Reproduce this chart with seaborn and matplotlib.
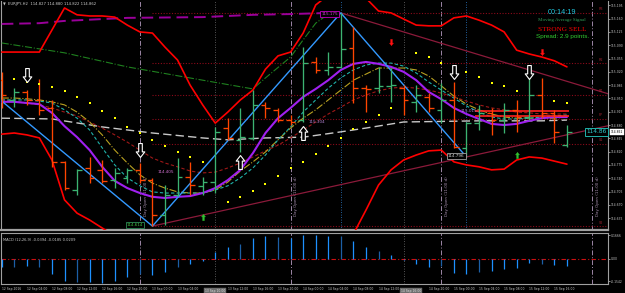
import numpy as np
import pandas as pd
import matplotlib
matplotlib.use("Agg")
import matplotlib.pyplot as plt
import seaborn as sns
from matplotlib.path import Path

sns.set_style("dark", {"axes.facecolor": "black", "figure.facecolor": "black"})
plt.rcParams['font.family'] = ['DejaVu Sans']

# ---------------- data ----------------
symbol_title = "EURJPY,H2  114.827 114.880 114.822 114.862"
bars = list(range(46))
open_ = [114.998,114.946,114.967,114.946,114.925,114.783,114.709,114.767,114.762,114.735,114.741,114.762,114.735,114.643,114.696,114.743,114.720,114.730,114.872,114.841,114.846,114.933,114.920,114.893,114.893,115.046,115.025,115.033,115.083,114.977,114.977,114.983,114.977,114.941,114.954,114.920,114.946,114.820,114.885,114.912,114.893,114.920,114.901,114.959,114.912,114.827]
high = [115.020,114.977,114.972,115.001,114.946,114.785,114.764,114.796,114.788,114.767,114.767,114.780,114.741,114.722,114.793,114.783,114.743,114.875,114.898,114.925,114.972,114.941,114.925,114.906,115.085,115.059,115.072,115.175,115.138,114.985,115.033,115.030,114.985,114.985,114.964,114.991,114.993,114.888,114.933,114.925,114.938,114.946,115.006,115.004,114.920,114.880]
low = [114.925,114.927,114.933,114.906,114.770,114.709,114.696,114.727,114.727,114.714,114.727,114.727,114.614,114.617,114.693,114.696,114.696,114.701,114.841,114.809,114.841,114.898,114.888,114.880,114.888,115.017,115.012,115.030,114.938,114.914,114.964,114.941,114.906,114.914,114.914,114.885,114.820,114.796,114.867,114.854,114.859,114.862,114.893,114.898,114.833,114.822]
close = [114.959,114.967,114.946,114.920,114.783,114.714,114.762,114.741,114.733,114.754,114.762,114.735,114.643,114.696,114.743,114.722,114.730,114.862,114.846,114.848,114.933,114.925,114.893,114.888,115.043,115.025,115.033,115.080,114.977,114.975,114.983,114.985,114.946,114.959,114.925,114.946,114.822,114.885,114.912,114.893,114.920,114.901,114.959,114.912,114.862,114.862]

ma_purple = [114.941,114.941,114.938,114.935,114.912,114.877,114.848,114.814,114.770,114.733,114.714,114.701,114.691,114.688,114.691,114.693,114.701,114.714,114.735,114.762,114.806,114.859,114.898,114.925,114.954,114.975,114.998,115.025,115.041,115.046,115.041,115.033,115.020,114.998,114.967,114.948,114.925,114.909,114.896,114.883,114.880,114.883,114.891,114.898,114.901,114.901]
ma_cyan = [114.946,114.946,114.946,114.943,114.938,114.920,114.898,114.867,114.820,114.775,114.741,114.720,114.704,114.701,114.701,114.701,114.701,114.709,114.720,114.741,114.767,114.801,114.841,114.875,114.914,114.946,114.977,115.004,115.025,115.038,115.043,115.043,115.035,115.017,114.993,114.972,114.951,114.930,114.914,114.901,114.896,114.896,114.898,114.901,114.904,114.906]
ma_olive = [114.951,114.951,114.949,114.946,114.941,114.933,114.914,114.888,114.854,114.814,114.780,114.749,114.727,114.714,114.704,114.701,114.701,114.709,114.730,114.759,114.783,114.809,114.841,114.872,114.898,114.920,114.946,114.972,114.998,115.014,115.030,115.030,115.030,115.025,115.009,114.983,114.956,114.935,114.920,114.909,114.901,114.898,114.898,114.898,114.898,114.901]
ma_darkred = [114.946,114.943,114.938,114.933,114.925,114.914,114.904,114.888,114.872,114.854,114.835,114.814,114.793,114.780,114.770,114.759,114.754,114.756,114.767,114.780,114.796,114.812,114.827,114.846,114.867,114.888,114.909,114.927,114.946,114.959,114.970,114.977,114.980,114.977,114.972,114.964,114.954,114.943,114.933,114.925,114.920,114.914,114.912,114.909,114.909,114.909]
ma_gray_bars = [0,4,8,12,16,18,21,24,27,29,32,38,43,45]
ma_gray = [114.898,114.896,114.875,114.859,114.846,114.841,114.846,114.848,114.862,114.872,114.888,114.891,114.891,114.893]
ma_green_bars = [0,5,10,16,20,21,23,24,25,26]
ma_green = [115.096,115.070,115.033,114.998,114.975,115.004,115.059,115.104,115.148,115.172]
ma_long_bars = [0,3,5,10,16,20,23,26]
ma_long = [115.146,115.148,115.154,115.162,115.164,115.170,115.172,115.175]

band_upper = [115.072,115.072,115.072,115.072,115.130,115.188,115.170,115.167,115.167,115.164,115.143,115.125,115.122,115.085,115.051,114.985,114.933,114.885,114.914,114.946,114.972,115.027,115.062,115.072,115.122,115.196,115.222,115.235,115.230,115.214,115.180,115.175,115.159,115.143,115.141,115.141,115.162,115.167,115.156,115.143,115.125,115.077,115.067,115.059,115.049,115.033]
band_lower = [114.856,114.859,114.854,114.846,114.788,114.683,114.648,114.630,114.609,114.588,114.564,114.551,114.535,114.520,114.509,114.504,114.498,114.493,114.488,114.483,114.477,114.472,114.472,114.477,114.493,114.520,114.546,114.567,114.593,114.656,114.722,114.762,114.788,114.801,114.812,114.814,114.783,114.775,114.770,114.762,114.764,114.788,114.796,114.793,114.785,114.777]

zigzag_bars = [0,12,27,37]
zigzag = [114.943,114.614,115.175,114.796]
trend_low_bars = [12,37]
trend_low = [114.614,114.796]
trend_high_bars = [27,43]
trend_high = [115.175,115.015]

sar_bars = [1,2,3,4,5,6,7,8,9,10,11,12,13,14,15,16,18,19,20,21,22,23,24,25,26,27,28,29,30,31,33,34,35,36,37,38,39,40,41,44,45]
sar = [115.001,114.993,114.988,114.980,114.970,114.954,114.938,114.917,114.898,114.875,114.859,114.841,114.825,114.809,114.796,114.783,114.677,114.691,114.706,114.725,114.746,114.767,114.783,114.804,114.825,114.846,114.870,114.888,114.906,114.925,115.070,115.059,115.043,115.033,115.020,115.006,114.991,114.983,114.970,114.943,114.938]

pivot_levels = [115.175,115.043,114.959,114.896,114.830,114.614]
pivot_names = ["R3","R2","R1","PP","S1","S2"]
pivot_start = 12
dayhl_levels = [114.917,114.904]
dayhl_span = [37.7,45.2]

sell_arrow_bars = [2,11,36,42]
sell_arrow = [115.012,114.814,115.020,115.020]
buy_arrow_bars = [19,24]
buy_arrow = [114.783,114.859]
green_arrow_bars = [16,41]
green_arrow = [114.638,114.801]
red_arrow_bars = [31,43]
red_arrow = [115.098,115.072]

macd = [-0.058,-0.053,-0.047,-0.053,-0.104,-0.151,-0.162,-0.162,-0.165,-0.151,-0.127,-0.106,-0.111,-0.088,-0.053,-0.035,-0.012,0.051,0.083,0.104,0.144,0.160,0.151,0.144,0.165,0.167,0.160,0.162,0.125,0.083,0.056,0.028,-0.009,-0.035,-0.058,-0.049,-0.095,-0.104,-0.088,-0.083,-0.067,-0.060,-0.030,-0.033,-0.042,-0.047]
macd_dark = [1,3,6,11,14,19,22,27,30,35,38,43]
macd_title = "MACD (12,26,9) -0.0394 -0.0185 0.0209"

price_ticks = [115.195,115.160,115.125,115.090,115.055,115.020,114.985,114.950,114.915,114.880,114.845,114.810,114.775,114.740,114.705,114.670,114.635]
macd_ticks = [0.1666,0.0,-0.1542]
macd_tick_labels = ["0.1666","0.00","-0.1542"]
time_tick_bars = list(range(0,45,2))
time_labels = ["12 Sep 2016","12 Sep 04:00","12 Sep 08:00","12 Sep 12:00","12 Sep 16:00","12 Sep 20:00",
               "13 Sep 00:00","13 Sep 04:00","","13 Sep 12:00","13 Sep 16:00","13 Sep 20:00",
               "14 Sep 00:00","14 Sep 04:00","14 Sep 08:00","14 Sep 12:00","","14 Sep 20:00",
               "15 Sep 00:00","15 Sep 04:00","15 Sep 08:00","15 Sep 12:00","15 Sep 16:00"]
day_sep_bars = [11,23,35,47]
day_sep_text = "Day Open (11:00 d)"
marker_lines = [17,32]
marker_line_labels = ["13 Sep 10:00","14 Sep 16:00"]
swing_lines = [27,37]
bid = 114.862

# ---------------- figure ----------------
W, H = 625, 293
fig = plt.figure(figsize=(6.25, 2.93), dpi=100, facecolor='black')
ax = fig.add_axes([1/W, 1-230/H, 607/W, 229/H])
mx = fig.add_axes([1/W, 1-284/H, 607/W, 51.5/H])
for a in (ax, mx):
    a.set_facecolor('black')
    a.grid(False)
    for s in a.spines.values():
        s.set_color('#A0A0A0'); s.set_linewidth(0.8)
    a.set_xlim(-0.056, 48.27)
ax.spines['top'].set_visible(False)
ax.spines['bottom'].set_linewidth(1.6)
ax.set_ylim(114.6037, 115.2064)
mx.set_ylim(-0.17355, 0.18396)

tick_kw = dict(labelsize=2.2, colors='#C8C8C8', length=1.2, width=0.5, pad=0.8)
ax.yaxis.tick_right()
ax.set_yticks(price_ticks)
ax.set_yticklabels([f"{v:.3f}" for v in price_ticks])
ax.tick_params(axis='y', **tick_kw)
ax.set_xticks([])
mx.yaxis.tick_right()
mx.set_yticks(macd_ticks)
mx.set_yticklabels(macd_tick_labels)
mx.tick_params(axis='y', **tick_kw)
mx.set_xticks(time_tick_bars)
mx.set_xticklabels(time_labels)
mx.tick_params(axis='x', labelsize=2.2, colors='#C8C8C8', length=1.2, width=0.5, pad=1)
for lb in mx.get_xticklabels():
    lb.set_ha('left')
ax.set_xlabel(''); ax.set_ylabel(''); mx.set_xlabel(''); mx.set_ylabel('')

# vertical lines
for b in day_sep_bars:
    for a in (ax, mx):
        a.axvline(b, color='#9C86A6', lw=0.7, ls=(0, (5, 2, 1, 2)), zorder=1)
    ax.text(b + 0.3, 114.640, day_sep_text, rotation=90, fontsize=2.9, color='#A890B0',
            va='bottom', ha='left')
for b in marker_lines:
    for a in (ax, mx):
        a.axvline(b, color='#707070', lw=0.6, ls=(0, (1, 2)), zorder=1)
for b in swing_lines:
    ax.axvline(b, color='#2F7FD0', lw=0.6, ls=(0, (1, 2)), zorder=1)

# pivots
for lv, nm in zip(pivot_levels, pivot_names):
    ax.hlines(lv, pivot_start, 48.3, color='#8B0A1A', lw=0.8, ls=(0, (1, 1.5)), zorder=1)
    ax.text(47.5, lv + 0.004, nm, fontsize=2.4, color='#A02030', va='bottom', ha='left')

# trend lines
def extend(bx, vy, end=48.3):
    s = (vy[1] - vy[0]) / (bx[1] - bx[0])
    return [bx[0], end], [vy[0], vy[0] + s * (end - bx[0])]
tx, ty = extend(trend_low_bars, trend_low)
ax.plot(tx, ty, color='#8B1A3A', lw=0.9, zorder=2)
tx, ty = extend(trend_high_bars, trend_high)
ax.plot(tx, ty, color='#8B1A3A', lw=0.9, zorder=2)

# moving averages / bands
sns.lineplot(x=ma_long_bars, y=ma_long, ax=ax, color='#9A009A', lw=1.4, linestyle=(0, (6, 3)), zorder=3)
sns.lineplot(x=ma_green_bars, y=ma_green, ax=ax, color='#1F801F', lw=0.8, linestyle='-.', zorder=3)
sns.lineplot(x=ma_gray_bars, y=ma_gray, ax=ax, color='#C8C8C8', lw=1.0, linestyle=(0, (6, 3)), zorder=3)
sns.lineplot(x=bars, y=ma_darkred, ax=ax, color='#A01818', lw=0.8, linestyle=(0, (3, 2)), zorder=3)
sns.lineplot(x=bars, y=ma_olive, ax=ax, color='#B8A020', lw=0.8, linestyle='-.', zorder=3)
sns.lineplot(x=bars, y=ma_cyan, ax=ax, color='#20B2AA', lw=0.8, linestyle=(0, (3, 2)), zorder=3)
sns.lineplot(x=bars, y=ma_purple, ax=ax, color='#A020F0', lw=1.5, zorder=4)
sns.lineplot(x=bars, y=band_upper, ax=ax, color='#FF0000', lw=1.2, zorder=4)
sns.lineplot(x=bars, y=band_lower, ax=ax, color='#FF0000', lw=1.2, zorder=4)
sns.lineplot(x=zigzag_bars, y=zigzag, ax=ax, color='#3399FF', lw=1.0, zorder=4)
for lv in dayhl_levels:
    ax.hlines(lv, dayhl_span[0], dayhl_span[1], color='#FF2020', lw=1.2, zorder=4)

# price bars
bull_c, bear_c = '#3CB371', '#FF4500'
cols = [bull_c if c >= o else bear_c for o, c in zip(open_, close)]
ax.vlines(bars, low, high, colors=cols, lw=0.95, zorder=5)
ax.hlines(open_, np.array(bars) - 0.38, bars, colors=cols, lw=0.95, zorder=5)
ax.hlines(close, bars, np.array(bars) + 0.38, colors=cols, lw=0.95, zorder=5)

# SAR dots
sns.scatterplot(x=sar_bars, y=sar, ax=ax, color='#FFFF00', marker='s', s=1.5, linewidth=0, zorder=6)

# arrows
up_path = Path([(0, 1), (-0.62, 0.2), (-0.26, 0.2), (-0.26, -1), (0.26, -1), (0.26, 0.2), (0.62, 0.2), (0, 1)],
               [Path.MOVETO] + [Path.LINETO] * 6 + [Path.CLOSEPOLY])
down_path = Path([(x, -y) for x, y in up_path.vertices], up_path.codes)
ax.plot(sell_arrow_bars, sell_arrow, ls='none', marker=down_path, ms=10, mfc='black', mec='white', mew=0.8, zorder=7)
ax.plot(buy_arrow_bars, buy_arrow, ls='none', marker=up_path, ms=10, mfc='black', mec='white', mew=0.8, zorder=7)
ax.plot(green_arrow_bars, green_arrow, ls='none', marker=up_path, ms=4.5, mfc='#30C030', mec='#30C030', mew=0.3, zorder=7)
ax.plot(red_arrow_bars, red_arrow, ls='none', marker=down_path, ms=4.5, mfc='#FF1010', mec='#FF1010', mew=0.3, zorder=7)

# price labels
ax.text(12.4, 114.756, "114.405", fontsize=3.0, color='#D070D0', va='center', zorder=8)
ax.text(24.4, 114.888, "115.304", fontsize=3.0, color='#B080D0', va='center', zorder=8)
ax.text(36.5, 114.917, "115.015", fontsize=3.0, color='#B080D0', va='center', zorder=8)
ax.text(26.1, 115.172, "115.175", fontsize=3.0, color='#D040D0', va='center', ha='center', zorder=8,
        bbox=dict(boxstyle='square,pad=0.2', fc='black', ec='#C000C0', lw=0.6))
ax.text(10.6, 114.617, "114.614", fontsize=3.0, color='#40C040', va='center', ha='center', zorder=8,
        bbox=dict(boxstyle='square,pad=0.2', fc='black', ec='#2E8B57', lw=0.6))
ax.text(36.2, 114.799, "114.796", fontsize=3.0, color='#D0D0D0', va='center', ha='center', zorder=8,
        bbox=dict(boxstyle='square,pad=0.2', fc='black', ec='#A0A0A0', lw=0.6))
ax.text(47.36, bid, "114.86", fontsize=4.2, color='#30D0D0', va='center', ha='center', zorder=8,
        bbox=dict(boxstyle='square,pad=0.2', fc='black', ec='#20B2AA', lw=0.7))
ax.text(1.004, bid, f"{bid:.3f}", transform=ax.get_yaxis_transform(), fontsize=2.2, color='black',
        va='center', ha='left', zorder=9, clip_on=False,
        bbox=dict(boxstyle='square,pad=0.25', fc='white', ec='white', lw=0.3))

# MACD histogram
mcols = ['#1C5FA6' if i in macd_dark else '#1E90FF' for i in bars]
mx.vlines(bars, 0, macd, colors=mcols, lw=0.9, zorder=3)
mx.axhline(0, color='#CC1010', lw=0.8, ls=(0, (4, 2, 1, 2)), zorder=2)
mx.text(0.004, 0.86, macd_title, transform=mx.transAxes, fontsize=2.6, color='#C8C8C8', va='center')
for b, t, off in zip(marker_lines, marker_line_labels, [0.0, 0.6]):
    mx.text(b + off, -0.205, t, fontsize=2.2, color='#E0E0E0', ha='center', va='top', clip_on=False, zorder=9,
            bbox=dict(boxstyle='square,pad=0.2', fc='#6E6E6E', ec='#6E6E6E', lw=0.3))

# header texts
fig.text(3/W, 1-4.5/H, "▼", fontsize=2.6, color='#C0C0C0', va='center')
fig.text(8/W, 1-4.5/H, symbol_title, fontsize=2.7, color='#D0D0D0', va='center')
fig.text(562/W, 1-12.5/H, "00:14:19", fontsize=5.2, color='#20C8E0', ha='center', va='center', family='Liberation Sans')
fig.text(562/W, 1-20/H, "Moving Average Signal", fontsize=3.6, color='#2E9B57', ha='center', va='center', family='Liberation Serif')
fig.text(562/W, 1-29.5/H, "STRONG SELL", fontsize=5.2, color='#FF0000', ha='center', va='center', family='Liberation Serif')
fig.text(563/W, 1-36.5/H, "Spread: 2.9 points.", fontsize=4.6, color='#32CD32', ha='center', va='center', family='Liberation Sans')

fig.savefig("out.png", dpi=100, facecolor='black')
